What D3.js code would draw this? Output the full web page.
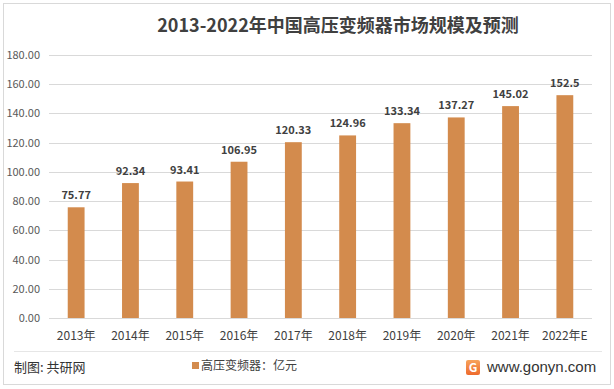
<!DOCTYPE html>
<html>
<head>
<meta charset="utf-8">
<script src="https://cdn.jsdelivr.net/npm/d3@7"></script>
<style>
body { margin: 0; background: #fff; }
svg { font-family: "Microsoft YaHei", "Noto Sans CJK SC", "DejaVu Sans", sans-serif; }
</style>
</head>
<body>
<svg width="614" height="389"></svg>
<script>
let years = ["2013年", "2014年", "2015年", "2016年", "2017年", "2018年", "2019年", "2020年", "2021年", "2022年E"];
let values = [75.77, 92.34, 93.41, 106.95, 120.33, 124.96, 133.34, 137.27, 145.02, 152.5];
let valueLabels = ["75.77", "92.34", "93.41", "106.95", "120.33", "124.96", "133.34", "137.27", "145.02", "152.5"];
let yTicks = [0, 20, 40, 60, 80, 100, 120, 140, 160, 180];

var svg = d3.select("svg"),
    width = +svg.attr("width"),
    height = +svg.attr("height");

// outer frame
svg.append("rect")
    .attr("x", 3.5).attr("y", 3.5)
    .attr("width", 607).attr("height", 381)
    .attr("fill", "none").attr("stroke", "#d9d9d9");

// title
svg.append("text")
    .attr("x", 338).attr("y", 32)
    .attr("text-anchor", "middle")
    .attr("font-size", 18).attr("font-weight", "bold")
    .attr("fill", "#404040")
    .text("2013-2022年中国高压变频器市场规模及预测");

var x = d3.scaleBand()
    .domain(years)
    .range([49, 592])
    .paddingInner(0.69)
    .paddingOuter(0.345);

var y = d3.scaleLinear()
    .domain([0, 180])
    .range([318, 55]);

// grid lines
svg.append("g")
    .attr("class", "grid")
    .selectAll("line")
    .data(yTicks)
    .enter().append("line")
    .attr("x1", 49).attr("x2", 592)
    .attr("y1", d => Math.round(y(d)) + 0.5)
    .attr("y2", d => Math.round(y(d)) + 0.5)
    .attr("stroke", "#d9d9d9");

// y axis labels
svg.append("g")
    .selectAll("text")
    .data(yTicks)
    .enter().append("text")
    .attr("x", 40)
    .attr("y", d => y(d) + 4)
    .attr("text-anchor", "end")
    .attr("font-size", 11)
    .attr("fill", "#595959")
    .text(d => d3.format(".2f")(d));

// bars
svg.append("g")
    .selectAll("rect")
    .data(values)
    .enter().append("rect")
    .attr("x", (d, i) => x(years[i]))
    .attr("y", d => y(d))
    .attr("width", x.bandwidth())
    .attr("height", d => y(0) - y(d))
    .attr("fill", "#d38b4d");

// value labels
svg.append("g")
    .selectAll("text")
    .data(values)
    .enter().append("text")
    .attr("x", (d, i) => x(years[i]) + x.bandwidth() / 2)
    .attr("y", d => y(d) - 8)
    .attr("text-anchor", "middle")
    .attr("font-size", 11).attr("font-weight", "bold")
    .attr("fill", "#404040")
    .text((d, i) => valueLabels[i]);

// x axis labels
svg.append("g")
    .selectAll("text")
    .data(years)
    .enter().append("text")
    .attr("x", d => x(d) + x.bandwidth() / 2)
    .attr("y", 340)
    .attr("text-anchor", "middle")
    .attr("font-size", 12)
    .attr("fill", "#404040")
    .text(d => d);

// footer separator
svg.append("line")
    .attr("x1", 14).attr("x2", 602)
    .attr("y1", 351.5).attr("y2", 351.5)
    .attr("stroke", "#e6e6e6");

svg.append("text")
    .attr("x", 14).attr("y", 372)
    .attr("font-size", 13)
    .attr("fill", "#333")
    .text("制图: 共研网");

// legend
svg.append("rect")
    .attr("x", 192).attr("y", 362)
    .attr("width", 7).attr("height", 7)
    .attr("fill", "#d38b4d");
svg.append("text")
    .attr("x", 201).attr("y", 370)
    .attr("font-size", 12)
    .attr("fill", "#404040")
    .text("高压变频器：亿元");

// logo
let grad = svg.append("defs").append("linearGradient")
    .attr("id", "logoGrad").attr("x1", 0).attr("y1", 0).attr("x2", 0).attr("y2", 1);
grad.append("stop").attr("offset", "0%").attr("stop-color", "#f7a35c");
grad.append("stop").attr("offset", "100%").attr("stop-color", "#ee6a2c");
svg.append("rect")
    .attr("x", 466).attr("y", 360)
    .attr("width", 14).attr("height", 15).attr("rx", 2)
    .attr("fill", "url(#logoGrad)");
svg.append("text")
    .attr("x", 473).attr("y", 372)
    .attr("text-anchor", "middle")
    .attr("font-size", 12).attr("font-weight", "bold")
    .attr("fill", "#fff")
    .text("G");
svg.append("text")
    .attr("x", 487).attr("y", 372)
    .attr("font-size", 15)
    .attr("fill", "#333")
    .attr("font-family", "Arial, 'Liberation Sans', sans-serif")
    .text("www.gonyn.com");
</script>
</body>
</html>
